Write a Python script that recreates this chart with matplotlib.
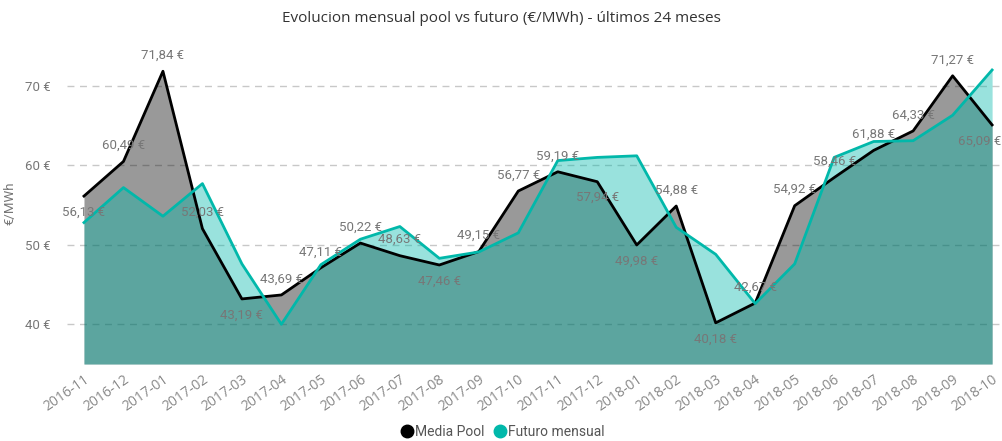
import matplotlib
matplotlib.use("Agg")
import matplotlib.pyplot as plt
from matplotlib.lines import Line2D
import numpy as np

months = ["2016-11", "2016-12", "2017-01", "2017-02", "2017-03", "2017-04",
          "2017-05", "2017-06", "2017-07", "2017-08", "2017-09", "2017-10",
          "2017-11", "2017-12", "2018-01", "2018-02", "2018-03", "2018-04",
          "2018-05", "2018-06", "2018-07", "2018-08", "2018-09", "2018-10"]
media_pool = [56.13, 60.49, 71.84, 52.03, 43.19, 43.69, 47.11, 50.22, 48.63,
              47.46, 49.15, 56.77, 59.19, 57.94, 49.98, 54.88, 40.18, 42.67,
              54.92, 58.46, 61.88, 64.33, 71.27, 65.09]
futuro = [52.8, 57.2, 53.6, 57.7, 47.6, 40.0, 47.5, 50.7, 52.3, 48.3, 49.1,
          51.5, 60.6, 61.0, 61.2, 52.2, 48.8, 42.6, 47.6, 61.0, 63.0, 63.1,
          66.3, 72.0]
yticks = [40, 50, 60, 70]
below_idx = {0, 4, 9, 13, 14, 16, 23}

FONT = ['Roboto', 'DejaVu Sans']
TFONT = ['Open Sans', 'DejaVu Sans']
TEAL = '#01B8AA'
GRAY_TXT = '#777777'

fig = plt.figure(figsize=(10.03, 4.41), dpi=100)
ax = fig.add_axes([67/1003, 1-364/441, (1000-67)/1003, (364-39)/441])

x = np.arange(len(months))
ymin = 35
ax.fill_between(x, ymin, media_pool, color='black', alpha=0.4, linewidth=0, zorder=2)
ax.fill_between(x, ymin, futuro, color=TEAL, alpha=0.4, linewidth=0, zorder=3)
ax.plot(x, media_pool, color='black', lw=2, zorder=5)
ax.plot(x, futuro, color=TEAL, lw=2, zorder=6)

ax.set_xlim(-0.43, 23.2)
ax.set_ylim(ymin, 75.9)
ax.set_yticks(yticks)
ax.set_yticklabels([f"{v} €" for v in yticks], family=FONT, fontsize=9.5, color=GRAY_TXT)
ax.tick_params(axis='y', length=0, pad=12)
ax.yaxis.grid(True, linestyle=(0, (5, 4)), color='#c8c8c8', lw=1)
ax.set_axisbelow(True)

ax.set_xticks(x)
ax.set_xticklabels(months, rotation=35, ha='right', rotation_mode='anchor',
                   family=TFONT, fontsize=10, color='#888888')
ax.tick_params(axis='x', length=0, pad=6)

for s in ax.spines.values():
    s.set_visible(False)

ax.set_ylabel("€/MWh", family=FONT, fontsize=9.5, color=GRAY_TXT)
ax.yaxis.set_label_coords((16-67)/933, 0.495)

n = len(media_pool)
for i, v in enumerate(media_pool):
    off = -16 if i in below_idx else 16
    dx = -12 if i == n - 1 else 0
    ax.annotate(f"{v:.2f} €".replace('.', ','), (i, v), xytext=(dx, off),
                textcoords='offset pixels', ha='center', va='center',
                family=FONT, fontsize=9.5, color=GRAY_TXT, zorder=10)

fig.text(0.5, 1-18/441, "Evolucion mensual pool vs futuro (€/MWh) - últimos 24 meses",
         ha='center', va='center', fontsize=11, color='#333333', family=TFONT)

handles = [Line2D([], [], marker='o', ls='', color='black', markersize=9),
           Line2D([], [], marker='o', ls='', color=TEAL, markersize=9)]
fig.legend(handles, ["Media Pool", "Futuro mensual"], loc='center',
           bbox_to_anchor=(0.5, 1-432/441), ncol=2, frameon=False,
           prop={'family': FONT, 'size': 10}, handletextpad=0.0,
           columnspacing=0.5, labelcolor='#555555', handlelength=1.2)

fig.savefig("out.png", dpi=100)
